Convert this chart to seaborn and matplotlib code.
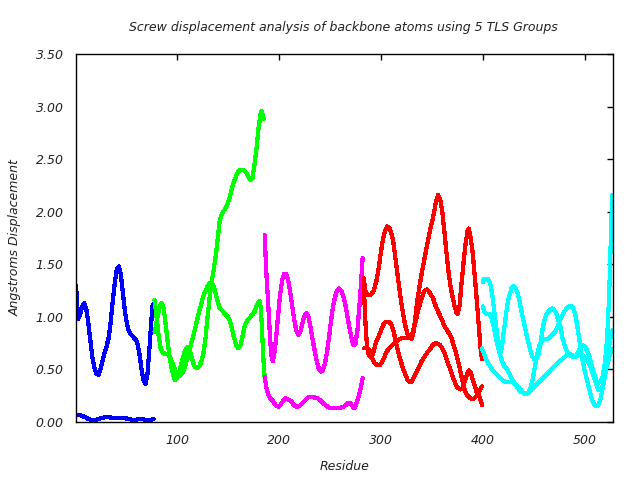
import matplotlib
matplotlib.use("Agg")
import matplotlib.pyplot as plt
import seaborn as sns
import pandas as pd

# ---------------- data (residue, screw displacement in Angstrom) ----------------
blue_a = [(1,1.30),(2,1.15),(3,0.98),(5,1.02),(7,1.10),(9,1.13),(11,1.08),(13,0.95),(15,0.78),
          (17,0.62),(19,0.52),(21,0.46),(23,0.45),(25,0.50),(27,0.58),(29,0.66),(31,0.72),(33,0.80),
          (35,0.95),(37,1.15),(39,1.32),(41,1.45),(43,1.48),(45,1.40),(47,1.22),(49,1.05),(51,0.93),
          (53,0.86),(55,0.83),(57,0.81),(59,0.79),(61,0.76),(63,0.66),(65,0.52),(67,0.40),(69,0.36),
          (71,0.45),(73,0.70),(75,0.98),(76,1.10),(77,1.12)]
blue_b = [(1,0.07),(5,0.065),(9,0.05),(13,0.03),(17,0.015),(21,0.02),(25,0.035),(29,0.045),(33,0.045),
          (37,0.04),(41,0.04),(45,0.04),(49,0.035),(53,0.03),(57,0.015),(61,0.025),(65,0.03),(69,0.02),
          (73,0.015),(77,0.03)]

green_a = [(78,0.86),(79,0.90),(81,1.00),(83,1.10),(85,1.13),(87,1.08),(89,0.92),(91,0.75),(93,0.60),
           (95,0.50),(97,0.42),(98,0.40),(100,0.42),(102,0.46),(104,0.55),(106,0.62),(108,0.68),(110,0.71),
           (112,0.70),(114,0.63),(116,0.56),(118,0.52),(120,0.51),(122,0.53),(124,0.58),(126,0.66),
           (128,0.80),(130,1.00),(132,1.18),(134,1.33),(136,1.45),(138,1.58),(140,1.75),(142,1.92),
           (144,1.98),(146,2.01),(148,2.04),(150,2.08),(152,2.15),(154,2.23),(156,2.29),(158,2.34),
           (160,2.38),(162,2.40),(164,2.40),(166,2.39),(168,2.37),(170,2.33),(172,2.30),(174,2.32),
           (176,2.45),(178,2.60),(180,2.80),(182,2.93),(183,2.96),(184,2.92),(185,2.88)]
green_b = [(78,1.16),(80,1.00),(82,0.82),(84,0.70),(86,0.66),(88,0.65),(90,0.65),(92,0.64),(94,0.60),
           (96,0.55),(98,0.50),(100,0.46),(102,0.44),(104,0.45),(106,0.48),(108,0.53),(110,0.60),
           (112,0.68),(114,0.75),(116,0.82),(118,0.90),(120,0.98),(122,1.06),(124,1.13),(126,1.20),
           (128,1.25),(130,1.29),(132,1.32),(134,1.33),(136,1.29),(138,1.22),(140,1.14),(142,1.08),
           (144,1.06),(146,1.04),(148,1.02),(150,1.00),(152,0.96),(154,0.88),(156,0.80),(158,0.73),
           (160,0.70),(162,0.72),(164,0.80),(166,0.90),(168,0.95),(170,0.98),(172,1.00),(174,1.02),
           (176,1.05),(178,1.10),(180,1.14),(181,1.15),(182,1.10),(183,0.95),(184,0.75),(185,0.55),
           (186,0.42)]

magenta_a = [(186,1.78),(187,1.55),(188,1.35),(189,1.20),(190,1.02),(191,0.85),(192,0.70),(193,0.60),
             (194,0.58),(195,0.62),(197,0.78),(199,1.00),(201,1.20),(203,1.34),(205,1.41),(207,1.41),
             (209,1.35),(211,1.24),(213,1.10),(215,0.97),(217,0.87),(219,0.83),(221,0.86),(223,0.94),
             (225,1.01),(227,1.04),(229,1.00),(231,0.90),(233,0.78),(235,0.68),(237,0.58),(239,0.51),
             (241,0.48),(243,0.49),(245,0.55),(247,0.66),(249,0.80),(251,0.96),(253,1.10),(255,1.19),
             (257,1.25),(259,1.27),(261,1.25),(263,1.20),(265,1.12),(267,1.01),(269,0.90),(271,0.80),
             (273,0.73),(275,0.74),(277,0.88),(279,1.12),(281,1.40),(282,1.56)]
magenta_b = [(186,0.43),(188,0.31),(190,0.25),(192,0.22),(194,0.20),(196,0.17),(198,0.15),(200,0.145),
             (202,0.17),(204,0.20),(206,0.225),(208,0.22),(210,0.21),(212,0.20),(214,0.17),(216,0.15),
             (218,0.145),(220,0.15),(222,0.17),(224,0.19),(226,0.21),(228,0.23),(230,0.24),(232,0.24),
             (234,0.235),(236,0.23),(238,0.225),(240,0.21),(242,0.19),(244,0.17),(246,0.16),(248,0.145),
             (250,0.135),(252,0.13),(254,0.13),(256,0.13),(258,0.13),(260,0.135),(262,0.14),(264,0.15),
             (266,0.165),(268,0.185),(270,0.18),(272,0.15),(274,0.13),(276,0.18),(278,0.24),(280,0.32),
             (282,0.415)]

red_a = [(283,1.37),(284,1.30),(285,1.23),(287,1.21),(290,1.21),(293,1.25),(296,1.36),(298,1.48),
         (300,1.62),(302,1.74),(304,1.82),(306,1.86),(308,1.85),(310,1.80),(312,1.72),(314,1.57),
         (316,1.42),(318,1.27),(320,1.13),(322,1.01),(324,0.91),(326,0.84),(328,0.80),(330,0.79),
         (332,0.86),(334,1.02),(336,1.18),(338,1.30),(340,1.42),(342,1.52),(344,1.62),(346,1.72),
         (348,1.82),(350,1.90),(352,1.99),(354,2.10),(356,2.16),(358,2.12),(360,2.01),(362,1.83),
         (364,1.63),(366,1.45),(368,1.30),(370,1.20),(372,1.11),(374,1.04),(375,1.03),(377,1.10),
         (379,1.32),(381,1.52),(383,1.70),(385,1.82),(386,1.84),(388,1.75),(390,1.60),(392,1.38),
         (394,1.15),(396,0.90),(398,0.66),(399,0.60)]
red_b = [(283,1.37),(284,1.10),(285,0.90),(286,0.76),(287,0.68),(288,0.64),(290,0.62),(292,0.64),
         (294,0.72),(296,0.78),(298,0.82),(300,0.87),(302,0.92),(304,0.95),(306,0.955),(308,0.95),
         (310,0.93),(312,0.88),(314,0.79),(316,0.70),(318,0.62),(320,0.56),(322,0.50),(324,0.45),
         (326,0.40),(328,0.38),(330,0.38),(332,0.42),(334,0.46),(336,0.50),(338,0.54),(340,0.58),
         (342,0.61),(344,0.64),(346,0.67),(348,0.69),(350,0.72),(352,0.74),(354,0.75),(356,0.74),
         (358,0.73),(360,0.70),(362,0.66),(364,0.61),(366,0.55),(368,0.50),(370,0.44),(372,0.39),
         (374,0.34),(376,0.32),(378,0.31),(380,0.32),(382,0.38),(384,0.44),(386,0.49),(388,0.47),
         (390,0.40),(392,0.34),(394,0.28),(396,0.25),(398,0.20),(399,0.16)]
red_c = [(283,0.70),(285,0.70),(287,0.70),(289,0.68),(291,0.61),(293,0.57),(295,0.55),(297,0.54),
         (299,0.54),(301,0.57),(303,0.61),(305,0.66),(307,0.69),(309,0.71),(311,0.73),(313,0.75),
         (315,0.76),(317,0.78),(319,0.79),(321,0.80),(323,0.80),(325,0.80),(327,0.80),(329,0.81),
         (331,0.85),(333,0.92),(335,1.00),(337,1.08),(339,1.15),(341,1.21),(343,1.25),(345,1.26),
         (347,1.24),(349,1.21),(351,1.18),(353,1.12),(355,1.07),(357,1.03),(359,0.99),(361,0.94),
         (363,0.90),(365,0.87),(367,0.84),(369,0.80),(371,0.74),(373,0.68),(375,0.60),(377,0.52),
         (379,0.43),(381,0.34),(383,0.28),(385,0.25),(387,0.23),(389,0.22),(391,0.22),(393,0.24),
         (395,0.27),(397,0.30),(399,0.34)]

cyan_a = [(400,1.33),(401,1.36),(403,1.36),(405,1.36),(407,1.32),(409,1.22),(411,1.06),(413,0.90),
          (415,0.75),(416,0.67),(417,0.65),(418,0.68),(420,0.83),(422,0.98),(424,1.12),(426,1.21),
          (428,1.27),(430,1.29),(432,1.27),(434,1.22),(436,1.14),(438,1.04),(440,0.95),(442,0.86),
          (444,0.78),(446,0.70),(448,0.63),(450,0.60),(452,0.59),(454,0.63),(456,0.72),(458,0.86),
          (460,0.96),(462,1.02),(464,1.05),(466,1.07),(468,1.08),(470,1.06),(472,1.03),(474,0.96),
          (476,0.90),(478,0.80),(480,0.73),(482,0.68),(484,0.65),(486,0.63),(488,0.62),(490,0.62),
          (492,0.64),(494,0.68),(496,0.71),(498,0.73),(500,0.72),(502,0.68),(504,0.63),(506,0.56),
          (508,0.49),(510,0.42),(512,0.38),(513,0.37),(515,0.38),(517,0.42),(519,0.52),(521,0.70),
          (522,0.85),(523,1.05),(524,1.30),(525,1.62),(526,1.95),(527,2.16)]
cyan_b = [(400,1.10),(401,1.05),(403,1.03),(405,1.03),(407,1.02),(409,0.97),(411,0.88),(413,0.78),
          (415,0.70),(417,0.63),(419,0.57),(421,0.53),(423,0.51),(425,0.48),(427,0.44),(429,0.40),
          (431,0.37),(433,0.34),(435,0.31),(437,0.29),(439,0.28),(441,0.27),(443,0.27),(445,0.29),
          (447,0.33),(449,0.42),(451,0.53),(453,0.64),(455,0.72),(457,0.76),(459,0.78),(461,0.79),
          (463,0.79),(465,0.80),(467,0.82),(469,0.84),(471,0.86),(473,0.90),(475,0.96),(477,1.00),
          (479,1.04),(481,1.07),(483,1.09),(485,1.10),(487,1.10),(489,1.07),(491,1.00),(493,0.88),
          (495,0.75),(497,0.62),(499,0.52),(501,0.44),(503,0.36),(505,0.28),(507,0.21),(509,0.17),
          (511,0.15),(513,0.16),(515,0.21),(517,0.30),(519,0.41),(521,0.51),(523,0.59),(525,0.66),
          (527,0.69)]
cyan_c = [(399,0.70),(401,0.65),(403,0.60),(405,0.56),(407,0.53),(409,0.50),(411,0.48),(413,0.46),
          (415,0.44),(417,0.42),(419,0.40),(421,0.39),(423,0.38),(425,0.38),(427,0.38),(429,0.38),
          (431,0.37),(433,0.35),(435,0.33),(437,0.31),(439,0.28),(441,0.27),(443,0.27),(445,0.28),
          (447,0.30),(449,0.32),(451,0.34),(453,0.36),(455,0.38),(457,0.40),(459,0.42),(461,0.44),
          (463,0.46),(465,0.48),(467,0.50),(469,0.52),(471,0.54),(473,0.56),(475,0.58),(477,0.59),
          (479,0.61),(481,0.63),(483,0.64),(485,0.65),(487,0.64),(489,0.63),(491,0.62),(493,0.63),
          (495,0.64),(497,0.64),(499,0.62),(501,0.60),(503,0.57),(505,0.53),(507,0.48),(509,0.42),
          (511,0.36),(513,0.31),(515,0.30),(517,0.33),(519,0.42),(521,0.55),(523,0.68),(525,0.80),
          (527,0.875)]

groups = ["Group 1", "Group 2", "Group 3", "Group 4", "Group 5"]
group_colors = ["#0000ff", "#00ff00", "#ff00ff", "#ff0000", "#00ffff"]
curves = [
    ("blue_a", groups[0], blue_a), ("blue_b", groups[0], blue_b),
    ("green_a", groups[1], green_a), ("green_b", groups[1], green_b),
    ("magenta_a", groups[2], magenta_a), ("magenta_b", groups[2], magenta_b),
    ("red_a", groups[3], red_a), ("red_b", groups[3], red_b), ("red_c", groups[3], red_c),
    ("cyan_a", groups[4], cyan_a), ("cyan_b", groups[4], cyan_b), ("cyan_c", groups[4], cyan_c),
]

title = "Screw displacement analysis of backbone atoms using 5 TLS Groups"
xlabel = "Residue"
ylabel = "Angstroms Displacement"
xticks = [100, 200, 300, 400, 500]
yticks = [0.0, 0.5, 1.0, 1.5, 2.0, 2.5, 3.0, 3.5]

rows = []
for name, grp, pts in curves:
    for i, (r, v) in enumerate(pts):
        rows.append({"curve": name, "group": grp, "order": i, "residue": r, "disp": v})
df = pd.DataFrame(rows)

# ---------------- plot ----------------
sns.set_theme(style="white")
plt.rcParams["font.family"] = ["DejaVu Sans"]

fig = plt.figure(figsize=(6.4, 4.8), dpi=100)
ax = fig.add_axes([76 / 640, 1 - 422 / 480, (612.5 - 76) / 640, (422 - 54) / 480])

sns.lineplot(data=df, x="residue", y="disp", hue="group", units="curve",
             estimator=None, sort=False, palette=dict(zip(groups, group_colors)),
             legend=False, linewidth=2.3, ax=ax)
for ln in ax.lines:
    ln.set_antialiased(False)
    ln.set_solid_joinstyle("round")

ax.set_xlim(1, 527)
ax.set_ylim(0, 3.5)
ax.set_xticks(xticks)
ax.set_xticklabels([str(t) for t in xticks], fontstyle="italic", fontsize=9, color="#222222")
ax.set_yticks(yticks)
ax.set_yticklabels([f"{t:.2f}" for t in yticks], fontstyle="italic", fontsize=9, color="#222222")
ax.tick_params(direction="in", length=4, width=1, top=True, right=True, color="black")
ax.tick_params(axis="x", pad=9)
ax.tick_params(axis="y", pad=9)
for s in ax.spines.values():
    s.set_visible(True)
    s.set_color("black")
    s.set_linewidth(1)

ax.set_xlabel(xlabel, fontstyle="italic", fontsize=9, color="#222222", labelpad=9)
ax.set_ylabel(ylabel, fontstyle="italic", fontsize=9, color="#222222", labelpad=10)
fig.text(343 / 640, 1 - 27 / 480, title, ha="center", va="center",
         fontstyle="italic", fontsize=9, color="#222222")

fig.savefig("out.png", dpi=100, facecolor="white")
